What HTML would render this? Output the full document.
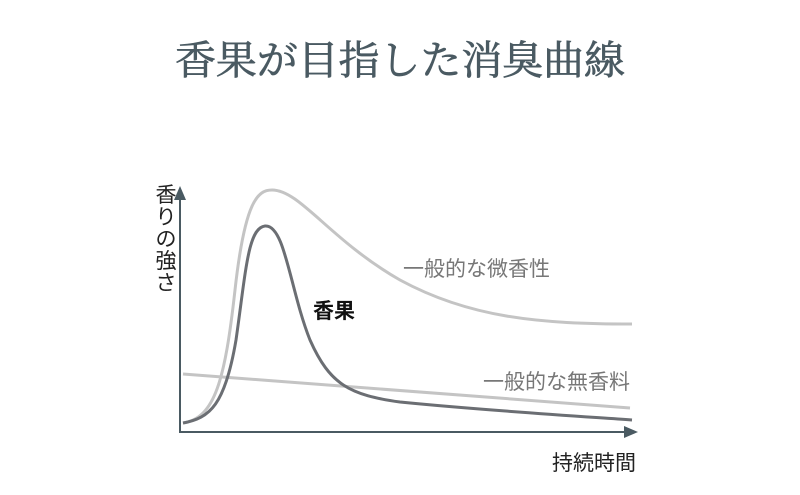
<!DOCTYPE html>
<html><head><meta charset="utf-8"><style>
body{margin:0;background:#fff;width:800px;height:495px;overflow:hidden}
svg{display:block}
</style></head><body>
<svg width="800" height="495" viewBox="0 0 800 495" xmlns="http://www.w3.org/2000/svg">
<text x="400" y="74" text-anchor="middle" font-family="'Noto Serif CJK SC','Noto Serif CJK JP',serif" font-size="40" fill="#4a5a62" stroke="#4a5a62" stroke-width="0.7" textLength="450" lengthAdjust="spacingAndGlyphs">香果が目指した消臭曲線</text>
<g font-family="'Liberation Sans','Noto Sans CJK JP',sans-serif" font-size="21">
<text x="166" y="202" text-anchor="middle" fill="#222">香</text>
<text x="166" y="224" text-anchor="middle" fill="#222">り</text>
<text x="166" y="246" text-anchor="middle" fill="#222">の</text>
<text x="166" y="268" text-anchor="middle" fill="#222">強</text>
<text x="166" y="290" text-anchor="middle" fill="#222">さ</text>
<text x="403" y="276" fill="#777">一般的な微香性</text>
<text x="483" y="389" fill="#777">一般的な無香料</text>
<text x="313" y="318" fill="#111" font-weight="bold">香果</text>
<text x="552" y="470" fill="#222">持続時間</text>
</g>
<line x1="180" y1="196" x2="180" y2="433" stroke="#4a5a62" stroke-width="2"/>
<polygon points="180,186 174,200 186,200" fill="#4a5a62"/>
<line x1="179" y1="432" x2="626" y2="432" stroke="#4a5a62" stroke-width="2"/>
<polygon points="638,432 624,426 624,438" fill="#4a5a62"/>
<path d="M183,374 L630,408" stroke="#c4c4c4" stroke-width="3" fill="none"/>
<path d="M183,423 C215,418 225,380 235,290 C245,200 258,190 272,190 C300,190 330,240 400,280 C470,318 540,324 632,324" stroke="#c4c4c4" stroke-width="3" fill="none"/>
<path d="M183,423 C210,418 225,405 236,340 C246,270 248,228 265,226 C285,224 290,290 310,340 C330,385 350,395 400,402 C480,410 560,415 632,420" stroke="#6b6e73" stroke-width="3" fill="none"/>
</svg>
</body></html>
